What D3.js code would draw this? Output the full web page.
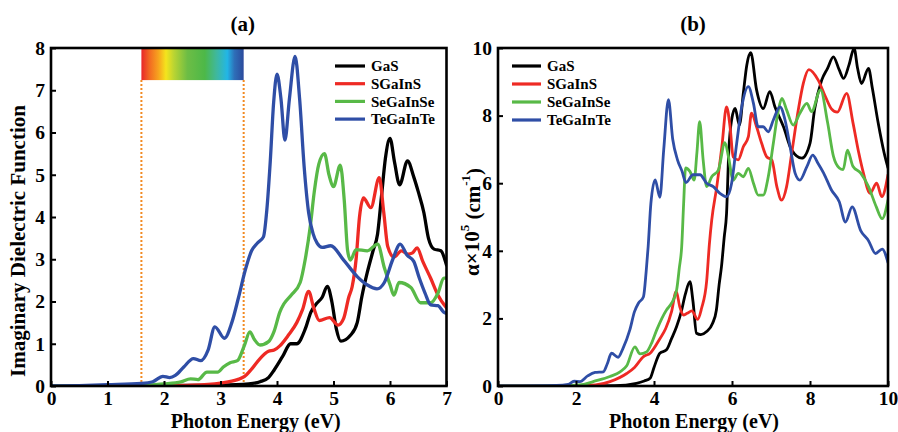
<!DOCTYPE html>
<html>
<head>
<meta charset="utf-8">
<script src="https://cdn.jsdelivr.net/npm/d3@7"></script>
<style>
  html, body { margin: 0; padding: 0; background: #fff; }
  svg { display: block; }
  text { font-family: "Liberation Serif", "Times New Roman", serif; font-weight: bold; fill: #000; }
</style>
</head>
<body>
<svg id="chart" width="898" height="432"></svg>
<script>
// ---------- DATA ----------
const seriesNames = ["GaS", "SGaInS", "SeGaInSe", "TeGaInTe"];
const seriesColors = ["#000000", "#ee2a24", "#58b947", "#2f4ea6"];

// Panel (a): imaginary dielectric function vs photon energy (eV)
const epsGaS = [[0,0],[1,0.005],[2,0.01],[3,0.02],[3.5,0.05],[3.7,0.1],[3.85,0.2],[3.95,0.38],[4.1,0.7],[4.24,1.0],[4.35,1.0],[4.5,1.35],[4.6,1.75],[4.7,1.95],[4.8,2.1],[4.89,2.36],[4.97,2.0],[5.05,1.35],[5.13,1.06],[5.3,1.2],[5.42,1.5],[5.5,2.1],[5.6,2.7],[5.7,3.2],[5.78,3.6],[5.85,4.5],[5.92,5.4],[6.0,5.86],[6.08,5.3],[6.17,4.76],[6.31,5.33],[6.42,4.95],[6.5,4.6],[6.6,4.1],[6.68,3.5],[6.78,3.24],[6.9,3.2],[7.0,2.86]];
const epsSGaInS = [[0,0],[1,0.005],[2,0.01],[2.5,0.02],[3.0,0.07],[3.3,0.15],[3.42,0.22],[3.55,0.4],[3.7,0.65],[3.85,0.82],[3.95,0.85],[4.05,0.95],[4.2,1.2],[4.35,1.5],[4.45,1.8],[4.56,2.24],[4.65,1.85],[4.75,1.55],[4.93,1.62],[5.08,1.44],[5.18,1.6],[5.27,2.1],[5.33,2.35],[5.4,3.0],[5.46,4.0],[5.53,4.45],[5.66,4.22],[5.81,4.93],[5.89,4.1],[5.96,3.3],[6.07,3.05],[6.2,3.2],[6.32,3.12],[6.4,3.15],[6.48,3.27],[6.58,2.95],[6.72,2.55],[6.85,2.15],[7.0,1.85]];
const epsSeGaInSe = [[0,0],[1,0.005],[1.6,0.02],[2.0,0.05],[2.3,0.1],[2.47,0.17],[2.6,0.15],[2.76,0.33],[2.95,0.33],[3.05,0.45],[3.17,0.55],[3.3,0.6],[3.42,0.95],[3.52,1.28],[3.6,1.1],[3.7,0.97],[3.85,1.05],[3.95,1.3],[4.05,1.75],[4.12,1.94],[4.25,2.15],[4.41,2.45],[4.5,3.0],[4.59,3.79],[4.66,4.6],[4.74,5.25],[4.84,5.5],[4.92,5.0],[5.0,4.72],[5.12,5.23],[5.19,4.4],[5.25,3.2],[5.3,2.98],[5.4,3.23],[5.6,3.2],[5.78,3.36],[5.9,2.8],[6.0,2.4],[6.07,2.15],[6.16,2.45],[6.37,2.33],[6.54,1.97],[6.72,1.97],[6.85,2.2],[6.95,2.55],[7.0,2.56]];
const epsTeGaInTe = [[0,0],[0.5,0.01],[1,0.03],[1.6,0.06],[1.8,0.1],[1.98,0.23],[2.1,0.2],[2.2,0.25],[2.35,0.45],[2.52,0.65],[2.65,0.6],[2.78,0.85],[2.9,1.4],[3.07,1.13],[3.2,1.5],[3.32,2.1],[3.44,2.75],[3.55,3.2],[3.65,3.38],[3.76,3.53],[3.82,4.17],[3.88,5.3],[3.94,6.7],[4.0,7.38],[4.07,6.8],[4.14,5.82],[4.22,6.8],[4.32,7.8],[4.4,6.8],[4.48,5.2],[4.56,4.1],[4.64,3.6],[4.71,3.38],[4.8,3.28],[4.95,3.32],[5.18,2.98],[5.42,2.59],[5.6,2.39],[5.77,2.3],[5.9,2.45],[6.05,3.0],[6.18,3.36],[6.3,3.1],[6.42,2.95],[6.52,2.55],[6.62,2.2],[6.72,1.92],[6.85,1.9],[6.95,1.75],[7.0,1.72]];

// Panel (b): absorption coefficient alpha (x10^5 cm^-1) vs photon energy (eV)
const absGaS = [[0,0],[2,0.005],[3,0.01],[3.55,0.08],[3.75,0.15],[3.9,0.23],[4.0,0.55],[4.15,0.97],[4.32,1.07],[4.45,1.4],[4.58,1.76],[4.7,2.2],[4.8,2.7],[4.92,3.09],[5.0,2.5],[5.09,1.56],[5.2,1.52],[5.35,1.61],[5.5,1.85],[5.6,2.25],[5.67,3.0],[5.73,3.53],[5.8,4.4],[5.86,5.1],[5.92,7.0],[5.99,7.87],[6.08,8.21],[6.19,7.72],[6.29,8.66],[6.38,9.5],[6.48,9.86],[6.63,8.76],[6.8,8.21],[6.97,8.71],[7.1,8.26],[7.32,7.67],[7.53,6.98],[7.79,6.74],[8.0,7.18],[8.12,8.2],[8.3,9.05],[8.45,9.4],[8.6,9.74],[8.75,9.35],[8.86,9.1],[9.0,9.5],[9.13,9.99],[9.22,9.4],[9.32,8.95],[9.5,9.4],[9.6,8.8],[9.75,7.77],[9.9,6.9],[10,6.45]];
const absSGaInS = [[0,0],[2,0.005],[2.5,0.03],[2.87,0.13],[3.3,0.37],[3.5,0.55],[3.73,0.87],[3.9,0.97],[4.15,1.4],[4.3,1.7],[4.45,2.2],[4.57,2.8],[4.66,2.35],[4.75,2.1],[4.85,2.15],[4.97,2.22],[5.12,1.97],[5.22,2.3],[5.35,3.1],[5.42,4.2],[5.48,4.91],[5.61,5.9],[5.74,7.08],[5.86,8.26],[5.95,7.67],[6.03,6.78],[6.16,6.69],[6.29,7.08],[6.42,7.38],[6.5,8.07],[6.63,7.67],[6.76,7.18],[6.89,6.78],[7.02,6.69],[7.15,5.9],[7.27,5.5],[7.4,5.9],[7.53,6.88],[7.7,8.17],[7.83,8.96],[7.97,9.36],[8.21,9.05],[8.4,8.55],[8.55,8.2],[8.7,8.1],[8.94,8.66],[9.1,7.8],[9.25,6.9],[9.37,6.3],[9.54,5.7],[9.71,6.0],[9.84,5.6],[10,6.25]];
const absSeGaInSe = [[0,0],[1.8,0.02],[2.2,0.05],[2.44,0.13],[2.87,0.28],[3.13,0.42],[3.3,0.6],[3.51,1.16],[3.64,0.95],[3.81,1.01],[3.95,1.3],[4.07,1.66],[4.32,2.25],[4.45,2.45],[4.58,2.84],[4.65,3.5],[4.71,4.12],[4.76,5.4],[4.81,6.45],[4.92,6.35],[5.03,6.09],[5.1,6.9],[5.17,7.82],[5.26,6.69],[5.35,5.9],[5.48,6.19],[5.65,6.39],[5.82,7.2],[5.91,6.78],[6.03,6.09],[6.16,6.29],[6.29,6.19],[6.42,6.44],[6.55,6.0],[6.67,5.65],[6.8,5.65],[6.93,6.19],[7.06,7.18],[7.19,8.17],[7.28,8.51],[7.4,8.17],[7.57,7.72],[7.74,8.07],[7.92,8.36],[8.04,8.12],[8.27,8.76],[8.45,7.8],[8.6,6.8],[8.75,6.45],[8.85,6.4],[8.96,6.98],[9.1,6.5],[9.3,6.3],[9.5,5.9],[9.7,5.3],[9.85,4.95],[10,5.5]];
const absTeGaInTe = [[0,0],[1.5,0.02],[1.8,0.05],[1.95,0.14],[2.1,0.13],[2.3,0.3],[2.49,0.4],[2.7,0.42],[2.8,0.65],[2.91,0.97],[3.08,0.85],[3.2,1.1],[3.38,1.66],[3.5,2.2],[3.6,2.45],[3.73,2.64],[3.8,3.4],[3.85,4.12],[3.92,5.4],[4.03,6.1],[4.15,5.58],[4.25,7.0],[4.37,8.47],[4.48,7.3],[4.6,6.7],[4.72,6.35],[4.82,6.02],[5.0,6.25],[5.18,6.25],[5.35,6.0],[5.52,5.9],[5.69,5.7],[5.86,5.6],[5.99,6.0],[6.12,7.18],[6.25,8.26],[6.42,8.86],[6.55,8.36],[6.67,7.67],[6.8,7.67],[6.93,7.52],[7.06,7.87],[7.23,8.26],[7.36,7.87],[7.49,7.08],[7.62,6.29],[7.74,6.09],[7.92,6.49],[8.07,6.83],[8.2,6.6],[8.35,6.3],[8.55,5.8],[8.75,5.45],[8.91,4.85],[9.08,5.3],[9.3,4.6],[9.5,4.3],[9.68,3.92],[9.85,4.05],[10,3.65]];

// Visible-light band marked in panel (a)
const visibleBand = [1.6, 3.41];
const visibleBandBottom = 7.24;
const spectrumStops = [
  [0.00, "#e8262a"], [0.08, "#f26a22"], [0.17, "#f7a61e"], [0.24, "#f4e41d"],
  [0.32, "#b8d433"], [0.45, "#6dbd45"], [0.62, "#4db848"], [0.73, "#40b89a"],
  [0.84, "#22b6e6"], [0.91, "#2e6fb8"], [1.00, "#2c4a9c"]
];

// Axis ticks and labels
const xTicksA = [0,1,2,3,4,5,6,7];
const yTicksA = [0,1,2,3,4,5,6,7,8];
const xTicksB = [0,2,4,6,8,10];
const yTicksB = [0,2,4,6,8,10];
const titleA = "(a)", titleB = "(b)";
const xLabel = "Photon Energy (eV)";
const yLabelA = "Imaginary Dielectric Function";

// ---------- DRAW ----------
const svg = d3.select("#chart");
const defs = svg.append("defs");

const grad = defs.append("linearGradient").attr("id", "spectrum")
  .attr("x1", "0%").attr("x2", "100%").attr("y1", "0%").attr("y2", "0%");
spectrumStops.forEach(s => grad.append("stop").attr("offset", s[0]).attr("stop-color", s[1]));

function panel(opts) {
  const { id, xDomain, yDomain, xRange, yRange, xTicks, yTicks, data, title, lineW } = opts;
  const x = d3.scaleLinear().domain(xDomain).range(xRange);
  const y = d3.scaleLinear().domain(yDomain).range(yRange);
  const g = svg.append("g");

  defs.append("clipPath").attr("id", "clip-" + id)
    .append("rect").attr("x", xRange[0]).attr("y", yRange[1])
    .attr("width", xRange[1] - xRange[0]).attr("height", yRange[0] - yRange[1]);

  const plot = g.append("g").attr("clip-path", `url(#clip-${id})`);

  if (opts.band) {
    plot.append("rect")
      .attr("x", x(opts.band[0])).attr("y", y(yDomain[1]))
      .attr("width", x(opts.band[1]) - x(opts.band[0]))
      .attr("height", y(opts.bandBottom) - y(yDomain[1]))
      .attr("fill", "url(#spectrum)");
    opts.band.forEach(b => {
      plot.append("line")
        .attr("x1", x(b)).attr("x2", x(b))
        .attr("y1", y(opts.bandBottom)).attr("y2", y(0))
        .attr("stroke", "#f28a22").attr("stroke-width", 2)
        .attr("stroke-dasharray", "2,2");
    });
  }

  const line = d3.line().x(d => x(d[0])).y(d => y(d[1])).curve(d3.curveMonotoneX);
  data.forEach((s, i) => {
    plot.append("path").datum(s)
      .attr("d", line).attr("fill", "none")
      .attr("stroke", seriesColors[i]).attr("stroke-width", lineW)
      .attr("stroke-linejoin", "round").attr("stroke-linecap", "round");
  });

  const xAxis = d3.axisBottom(x).tickValues(xTicks).tickSizeInner(-5).tickSizeOuter(0).tickPadding(5.5)
    .tickFormat(d3.format("d"));
  const gx = g.append("g").attr("transform", `translate(0,${yRange[0]})`).call(xAxis);
  const yAxis = d3.axisLeft(y).tickValues(yTicks).tickSizeInner(-5).tickSizeOuter(0).tickPadding(6)
    .tickFormat(d3.format("d"));
  const gy = g.append("g").attr("transform", `translate(${xRange[0]},0)`).call(yAxis);
  [gx, gy].forEach(a => {
    a.select(".domain").remove();
    a.selectAll(".tick line").attr("stroke", "#000").attr("stroke-width", 2);
    a.selectAll(".tick text").attr("font-size", 19.5).attr("font-family", "Liberation Serif, serif")
      .attr("font-weight", "bold").attr("fill", "#000");
  });

  g.append("rect")
    .attr("x", xRange[0]).attr("y", yRange[1])
    .attr("width", xRange[1] - xRange[0]).attr("height", yRange[0] - yRange[1])
    .attr("fill", "none").attr("stroke", "#000").attr("stroke-width", 2.6);

  const cx = (xRange[0] + xRange[1]) / 2;
  g.append("text").attr("x", cx + opts.titleDx).attr("y", 31).attr("text-anchor", "middle")
    .attr("font-size", 21).text(title);
  g.append("text").attr("x", cx + opts.labelDx).attr("y", 427.6).attr("text-anchor", "middle")
    .attr("font-size", 20).text(xLabel);

  // legend
  const L = opts.legend;
  seriesNames.forEach((n, i) => {
    const yy = L.y0 + i * L.dy;
    g.append("line").attr("x1", L.x1).attr("x2", L.x2).attr("y1", yy).attr("y2", yy)
      .attr("stroke", seriesColors[i]).attr("stroke-width", 3.2);
    g.append("text").attr("x", L.tx).attr("y", yy).attr("dy", "0.35em")
      .attr("font-size", 15).text(n);
  });
  return { g, x, y };
}

const pa = panel({
  id: "a", xDomain: [0, 7], yDomain: [0, 8], xRange: [51, 446.5], yRange: [386, 48],
  xTicks: xTicksA, yTicks: yTicksA,
  data: [epsGaS, epsSGaInS, epsSeGaInSe, epsTeGaInTe], title: titleA, lineW: 3.3,
  titleDx: -6, labelDx: 7,
  band: visibleBand, bandBottom: visibleBandBottom,
  legend: { x1: 335, x2: 365, tx: 371, y0: 66, dy: 17.7 }
});

const pb = panel({
  id: "b", xDomain: [0, 10], yDomain: [0, 10], xRange: [498, 888], yRange: [386, 48],
  xTicks: xTicksB, yTicks: yTicksB,
  data: [absGaS, absSGaInS, absSeGaInSe, absTeGaInTe], title: titleB, lineW: 2.8,
  titleDx: 0, labelDx: 1,
  legend: { x1: 512, x2: 541, tx: 547, y0: 66, dy: 18 }
});

// y-axis labels
svg.append("text")
  .attr("transform", "translate(25,241) rotate(-90)")
  .attr("text-anchor", "middle").attr("font-size", 21).text(yLabelA);

const yb = svg.append("text")
  .attr("transform", "translate(479,222) rotate(-90)")
  .attr("text-anchor", "middle").attr("font-size", 21);
yb.append("tspan").text("α×10");
yb.append("tspan").attr("font-size", 13).attr("dy", "-0.75em").text("5");
yb.append("tspan").attr("dy", "0.5em").text(" (cm");
yb.append("tspan").attr("font-size", 13).attr("dy", "-0.75em").text("-1");
yb.append("tspan").attr("dy", "0.5em").text(")");
</script>
</body>
</html>
